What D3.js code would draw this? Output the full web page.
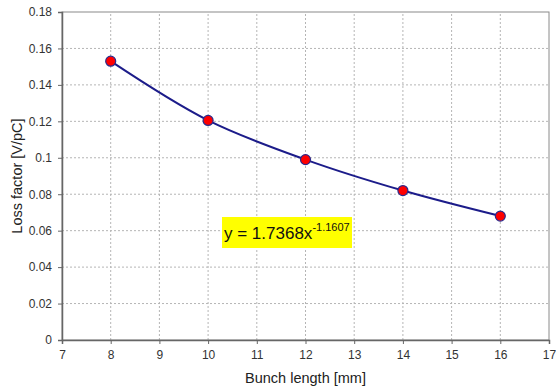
<!DOCTYPE html>
<html>
<head>
<meta charset="utf-8">
<script src="https://cdn.jsdelivr.net/npm/d3@7"></script>
<style>
  body { margin: 0; background: #fff; }
  text { font-family: "Liberation Sans", Arial, sans-serif; }
</style>
</head>
<body>
<div class="canvas"></div>
<script>
const bunchLength = [8, 10, 12, 14, 16];
const lossFactor = [0.153, 0.1205, 0.099, 0.082, 0.068];
const xTicks = [7, 8, 9, 10, 11, 12, 13, 14, 15, 16, 17];
const yTicks = [0, 0.02, 0.04, 0.06, 0.08, 0.1, 0.12, 0.14, 0.16, 0.18];

const width = 556, height = 390;
const margin = { left: 62, right: 7, top: 12, bottom: 50 };

const svg = d3.select(".canvas").append("svg")
  .attr("width", width).attr("height", height);

const x = d3.scaleLinear().domain([7, 17]).range([margin.left, width - margin.right]);
const y = d3.scaleLinear().domain([0, 0.18]).range([height - margin.bottom, margin.top]);

// grid
svg.append("g").selectAll("line").data(xTicks.slice(1, -1)).join("line")
  .attr("x1", d => x(d)).attr("x2", d => x(d))
  .attr("y1", y(0)).attr("y2", y(0.18))
  .attr("stroke", "#b5b5b5").attr("stroke-dasharray", "2,2");
svg.append("g").selectAll("line").data(yTicks.slice(1, -1)).join("line")
  .attr("y1", d => y(d)).attr("y2", d => y(d))
  .attr("x1", x(7)).attr("x2", x(17))
  .attr("stroke", "#b5b5b5").attr("stroke-dasharray", "2,2");

// frame
svg.append("rect")
  .attr("x", x(7)).attr("y", y(0.18))
  .attr("width", x(17) - x(7)).attr("height", y(0) - y(0.18))
  .attr("fill", "none").attr("stroke", "#8a8a8a");

const xAxis = svg.append("g")
  .attr("transform", `translate(0,${y(0)})`)
  .call(d3.axisBottom(x).tickValues(xTicks).tickSize(4).tickPadding(6).tickFormat(d3.format("d")));
const yAxis = svg.append("g")
  .attr("transform", `translate(${x(7)},0)`)
  .call(d3.axisLeft(y).tickValues(yTicks).tickSize(4).tickPadding(6).tickFormat(d => d === 0 ? "0" : String(+d.toFixed(2))));

[xAxis, yAxis].forEach(a => {
  a.select(".domain").attr("stroke", "#666").attr("stroke-width", 1.5);
  a.selectAll(".tick line").attr("stroke", "#666");
  a.selectAll("text").attr("fill", "#333").style("font-size", "12px");
});

// trend line
const pts = bunchLength.map((d, i) => [d, lossFactor[i]]);
svg.append("path")
  .datum(pts)
  .attr("fill", "none")
  .attr("stroke", "#1c1c8a")
  .attr("stroke-width", 2)
  .attr("d", d3.line().x(d => x(d[0])).y(d => y(d[1])).curve(d3.curveCatmullRom.alpha(0.5)));

svg.append("g").selectAll("circle").data(pts).join("circle")
  .attr("cx", d => x(d[0])).attr("cy", d => y(d[1]))
  .attr("r", 5)
  .attr("fill", "#ff0000")
  .attr("stroke", "#2a2a8c")
  .attr("stroke-width", 1.2);

// equation box
const eq = svg.append("g");
eq.append("rect")
  .attr("x", 222).attr("y", 217).attr("width", 130).attr("height", 31)
  .attr("fill", "#ffff00");
const eqText = eq.append("text")
  .attr("x", 224).attr("y", 239)
  .attr("fill", "#111")
  .style("font-size", "17px");
eqText.append("tspan").text("y = 1.7368x");
eqText.append("tspan").attr("dy", -8).style("font-size", "11px").text("-1.1607");

// axis titles
svg.append("text")
  .attr("x", (x(7) + x(17)) / 2).attr("y", 383)
  .attr("text-anchor", "middle")
  .attr("fill", "#222")
  .style("font-size", "14.5px")
  .text("Bunch length [mm]");
svg.append("text")
  .attr("transform", `translate(22,${(y(0) + y(0.18)) / 2}) rotate(-90)`)
  .attr("text-anchor", "middle")
  .attr("fill", "#222")
  .style("font-size", "14.5px")
  .text("Loss factor [V/pC]");
</script>
</body>
</html>
